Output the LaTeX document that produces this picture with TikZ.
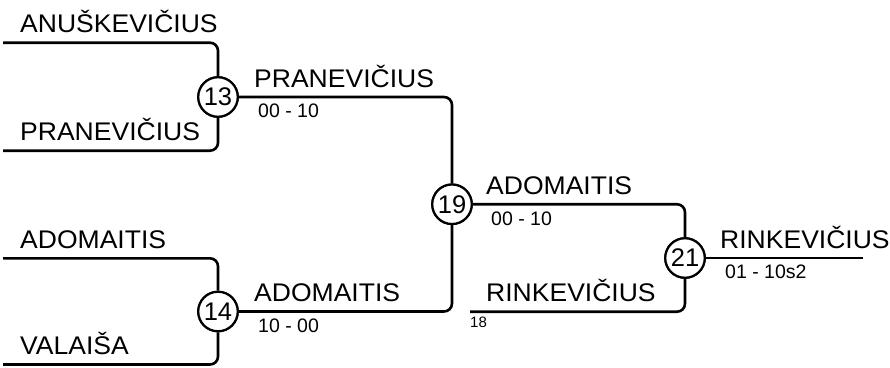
\documentclass[tikz,border=0pt]{standalone}
\usepackage{fontspec}
\setmainfont{Liberation Sans}
\newcommand{\widename}[1]{\scalebox{1.04}[1]{#1}}
\begin{document}
\begin{tikzpicture}[x=1pt,y=-1pt,
  bline/.style={line width=2.6pt,rounded corners=8pt},
  match/.style={circle,draw,line width=2.2pt,minimum size=39.5pt,inner sep=0pt,fill=white,
    font=\fontsize{25.5}{25.5}\selectfont},
  player/.style={anchor=base west,inner sep=0pt,font=\fontsize{25.5}{30}\selectfont},
  score/.style={anchor=base west,inner sep=0pt,font=\fontsize{19.5}{22}\selectfont},
  seed/.style={anchor=base west,inner sep=0pt,font=\fontsize{15}{16}\selectfont}]
\useasboundingbox (0,0) rectangle (890,367);
% match circles
\node[match] (c13) at (218,97) {13};
\node[match] (c14) at (218,311.5) {14};
\node[match] (c19) at (452,204.25) {19};
\node[match] (c21) at (685,258) {21};
% free line ends
\coordinate (a1) at (3,42.7);
\coordinate (a2) at (3,150.7);
\coordinate (a3) at (3,258.3);
\coordinate (a4) at (3,364.5);
\coordinate (b1) at (470,311.7);
\coordinate (w) at (863,258);
% connectors
\draw[bline] (a1) -| (c13);
\draw[bline] (a2) -| (c13);
\draw[bline] (a3) -| (c14);
\draw[bline] (a4) -| (c14);
\draw[bline] (c13) -| (c19);
\draw[bline] (c14) -| (c19);
\draw[bline] (c19) -| (c21);
\draw[bline] (b1) -| (c21);
\draw[bline] (c21) -- (w);
% redraw circles on top
\node[match] at (c13) {13};
\node[match] at (c14) {14};
\node[match] at (c19) {19};
\node[match] at (c21) {21};
% names
\node[player] (n1) at (20,32.5) {\widename{ANUŠKEVIČIUS}};
\node[player] (n2) at (20,140.5) {\widename{PRANEVIČIUS}};
\node[player] (n3) at (20,248) {\widename{ADOMAITIS}};
\node[player] (n4) at (20,354) {\widename{VALAIŠA}};
\node[player] (n5) at (254,87) {\widename{PRANEVIČIUS}};
\node[player] (n6) at (254,301.5) {\widename{ADOMAITIS}};
\node[player] (n7) at (486,194) {\widename{ADOMAITIS}};
\node[player] (n8) at (486,301.5) {\widename{RINKEVIČIUS}};
\node[player] (n9) at (720,248) {\widename{RINKEVIČIUS}};
% scores
\node[score] (s1) at (258,117.5) {00 - 10};
\node[score] (s2) at (258,332) {10 - 00};
\node[score] (s3) at (491,225) {00 - 10};
\node[score] (s4) at (725,278.5) {01 - 10s2};
\node[seed] (sd) at (470,327.5) {18};
\end{tikzpicture}
\end{document}
